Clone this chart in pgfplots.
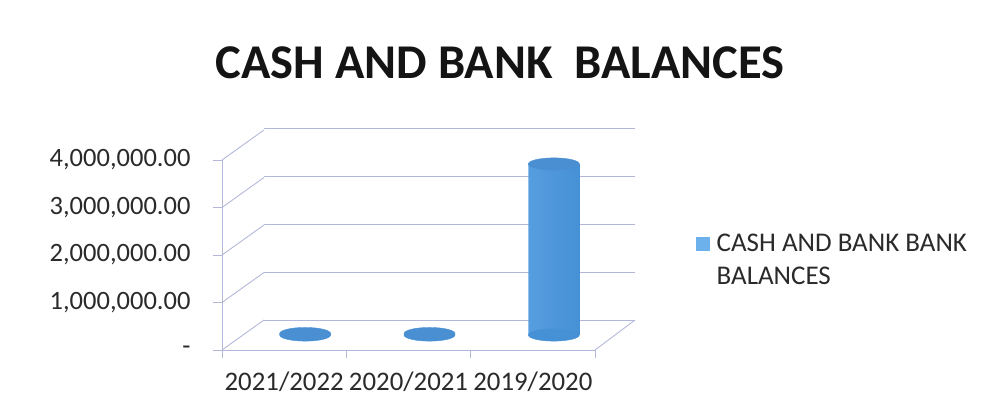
\documentclass[border=0pt]{standalone}
\usepackage{pgfplots}
\pgfplotsset{compat=1.18}
\usepackage{fontspec}
\setmainfont{Carlito}
\definecolor{gridc}{HTML}{B3B8DA}
\definecolor{cylA}{HTML}{4690D6}
\definecolor{cylB}{HTML}{78B8F0}
\definecolor{capc}{HTML}{4A8FD2}
\definecolor{legc}{HTML}{6CB0EC}
\definecolor{txt}{HTML}{2A2A2A}
\begin{document}
\begin{tikzpicture}[x=1pt,y=1pt]
\useasboundingbox (0,0) rectangle (985,414);
% back wall (gridlines)
\begin{axis}[at={(264pt,94pt)},anchor=south west,scale only axis,
  width=371pt,height=192pt,xmin=0,xmax=3,ymin=0,ymax=4000000,
  scaled y ticks=false,
  axis line style={draw=none},ytick={0,1000000,2000000,3000000,4000000},xtick=\empty,
  ymajorgrids,major grid style={gridc,line width=0.9pt},
  tick style={draw=none},yticklabels={}]
\addplot[draw=none] coordinates {(0,0)};
\end{axis}
% front axis (ticks, labels, side lines)
\begin{axis}[at={(222pt,64pt)},anchor=south west,scale only axis,
  width=373pt,height=190pt,xmin=0,xmax=3,ymin=0,ymax=4000000,clip=false,
  scaled y ticks=false,
  axis x line*=bottom,axis y line*=left,
  axis line style={gridc,line width=0.9pt},
  tick style={gridc,line width=0.9pt},tick align=outside,
  major tick length=9pt,minor tick length=8pt,
  ytick={0,1000000,2000000,3000000,4000000},
  yticklabels={{-},{1,000,000.00},{2,000,000.00},{3,000,000.00},{4,000,000.00}},
  xtick={0.5,1.5,2.5},xticklabels={2021/2022,2020/2021,2019/2020},
  minor xtick={0,1,2,3},major x tick style={draw=none},
  /pgf/number format/assume math mode=true,
  ticklabel style={text=txt},
  yticklabel style={font=\fontsize{26.5}{30}\selectfont,xshift=-19pt},
  xticklabel style={font=\fontsize{26.8}{32}\selectfont,yshift=-9pt}]
\addplot[draw=none] coordinates {(0,0)};
\foreach \k in {0,1000000,2000000,3000000,4000000}{
  \edef\tmp{\noexpand\draw[gridc,line width=0.9pt] (axis cs:0,\k) -- ++(42pt,30pt);}\tmp}
\draw[gridc,line width=0.9pt] (axis cs:3,0) -- ++(40pt,30pt);
\end{axis}
% cylinders at mid depth
\begin{axis}[at={(243pt,79pt)},anchor=south west,scale only axis,
  width=373pt,height=190pt,xmin=0,xmax=3,ymin=0,ymax=4000000,clip=false,
  scaled y ticks=false,
  axis line style={draw=none},ticks=none,
  legend style={at={(1.205,0.555)},anchor=north west,draw=none,fill=none,
    font=\fontsize{27}{33}\selectfont,text=txt,cells={align=left}},
  legend image code/.code={\pgfpathrectangle{\pgfpoint{0pt}{9pt}}{\pgfpoint{14pt}{14pt}}\pgfsetfillcolor{legc}\pgfusepath{fill}\path (19pt,9pt);}]
\addplot[color=cylA,only marks,mark=*,mark size=25.5pt,mark options={draw=cylA,fill=cylA,yscale=0.24},forget plot]
  coordinates {(0.5,0) (1.5,0) (2.5,0)};
\addplot[ybar,bar width=51pt,draw=none,shading=axis,left color=cylA,right color=cylA,middle color=cylB]
  coordinates {(0.5,30000) (1.5,30000) (2.5,3600000)};
\addplot[color=capc,only marks,mark=*,mark size=25.5pt,mark options={draw=capc,fill=capc,yscale=0.24},forget plot]
  coordinates {(0.5,30000) (1.5,30000) (2.5,3600000)};
\legend{CASH AND BANK BANK\\BALANCES}
\end{axis}
\node[font=\bfseries\fontsize{48.5}{52}\selectfont,text=black!92] at (500,351) {CASH AND BANK\ \ BALANCES};
\end{tikzpicture}
\end{document}
